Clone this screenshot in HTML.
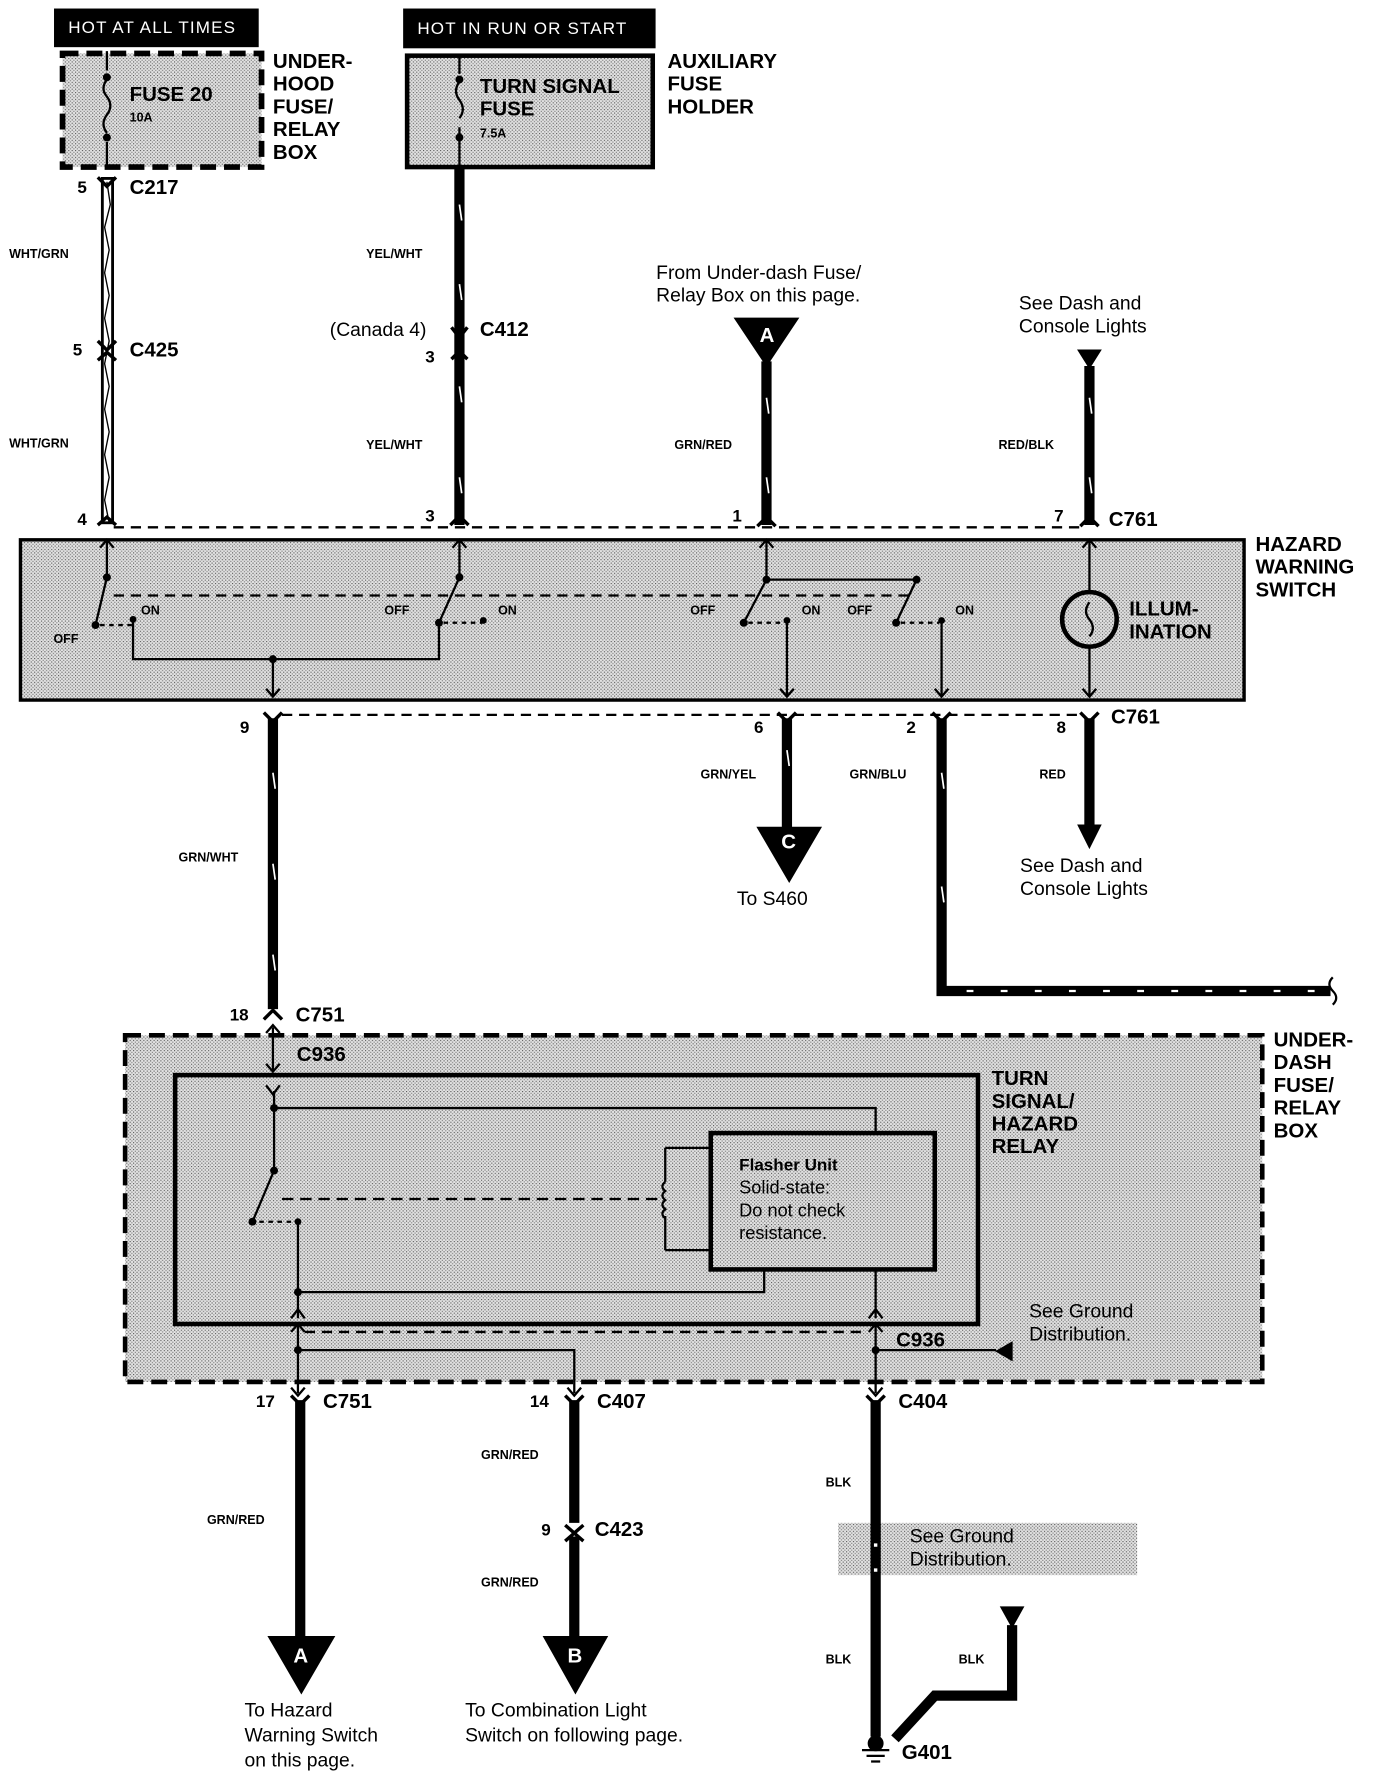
<!DOCTYPE html>
<html><head><meta charset="utf-8"><style>
html,body{margin:0;padding:0;background:#fff;}
svg{display:block}
text{font-family:"Liberation Sans",sans-serif;font-weight:bold;fill:#000;dominant-baseline:middle}
.s{font-size:11px}
.m{font-size:15px}
.l{font-size:18px}
.n{font-size:17px;font-weight:normal}
</style></head><body>
<svg width="1376" height="1778" viewBox="0 0 1210 1564.5" preserveAspectRatio="none" xmlns="http://www.w3.org/2000/svg">
<defs>
<pattern id="st" width="3" height="3" patternUnits="userSpaceOnUse"><rect width="3" height="3" fill="#e2e2e2"/><rect width="1" height="1" fill="#555"/><rect x="1.5" y="1.5" width="1" height="1" fill="#777"/></pattern>
</defs>
<g stroke="#000" fill="none">
<rect x="48" y="8" width="179" height="33" fill="#000"/>
<rect x="355" y="8" width="221" height="34" fill="#000"/>
<rect x="55" y="47" width="175" height="100" fill="url(#st)" stroke-width="5" stroke-dasharray="14,7"/>
<rect x="358" y="49" width="216" height="98" fill="url(#st)" stroke-width="4"/>
<path d="M94 45V62 M94 70 q-6 8 0 15 q6 8 0 16 q-6 8 0 16 M94 125V145" stroke-width="2"/>
<circle cx="94" cy="68" r="3" fill="#000"/><circle cx="94" cy="121" r="3" fill="#000"/>
<path d="M404 49V65 M404 72 q-6 8 0 16 q6 8 0 16 M404 112V147" stroke-width="2"/>
<circle cx="404" cy="70" r="3" fill="#000"/><circle cx="404" cy="121" r="3" fill="#000"/>
<rect x="90" y="157" width="9" height="303" fill="#fff" stroke-width="2.5"/>
<path d="M94 160 l3 20 l-5 20 l4 20 l-4 20 l4 20 l-4 20 l4 20 l-4 20 l4 20 l-4 20 l4 20 l-4 20 l4 20 l-4 20 l4 20" stroke-width="1.2"/>
<path d="M86 156 l8 8 l8 -8 M86 300 l8 8 l8 -8 M86 317 l8 -7 l8 7 M86 462 l8 -7 l8 7" stroke-width="3"/>
<path d="M404 147V462" stroke-width="9"/>
<path d="M397 288 l7 9 l7 -9 M397 316 l7 -7 l7 7 M396 462 l8 -8 l8 8" stroke-width="3"/>
<path d="M646 280H702L674 322Z" fill="#000"/>
<path d="M674 318V462" stroke-width="9"/>
<path d="M666 463 l8 -8 l8 8" stroke-width="3"/>
<path d="M948 308H968L958 324Z" fill="#000"/>
<path d="M958 322V462" stroke-width="9"/>
<path d="M950 463 l8 -8 l8 8" stroke-width="3"/>
<path d="M100 464H950" stroke-width="2" stroke-dasharray="9,6"/>
<rect x="18" y="475" width="1076" height="141" fill="url(#st)" stroke-width="3"/>
<g stroke-width="2">
<path d="M94 476V508 L84 550 M117 545V580H386V548 M240 580V612 M404 476V508 L386 548 M674 476V510H806 M674 510 L654 548 M692 545V612 M806 510 L788 548 M828 545V612 M958 476V520 M958 570V612"/>
<path d="M88 482 l6 -7 l6 7 M398 482 l6 -7 l6 7 M668 482 l6 -7 l6 7 M952 482 l6 -7 l6 7 M234 606 l6 7 l6 -7 M686 606 l6 7 l6 -7 M822 606 l6 7 l6 -7 M952 606 l6 7 l6 -7"/>
<path d="M100 524H805" stroke-dasharray="9,6"/>
<path d="M88 550H116 M390 548H424 M658 548H690 M792 548H826" stroke-dasharray="4,4"/>
<circle cx="958" cy="545" r="24" stroke-width="4"/>
<path d="M958 530 q-6 8 0 15 q6 8 0 15"/>
</g>
<g fill="#000" stroke="none">
<circle cx="94" cy="508" r="3.5"/><circle cx="84" cy="550" r="3.5"/><circle cx="117" cy="545" r="3"/>
<circle cx="404" cy="508" r="3.5"/><circle cx="386" cy="548" r="3.5"/><circle cx="425" cy="546" r="3"/>
<circle cx="674" cy="510" r="3.5"/><circle cx="654" cy="548" r="3.5"/><circle cx="692" cy="546" r="3"/>
<circle cx="806" cy="510" r="3.5"/><circle cx="788" cy="548" r="3.5"/><circle cx="828" cy="546" r="3"/>
<circle cx="240" cy="580" r="3.5"/>
</g>
<path d="M248 629H950" stroke-width="2" stroke-dasharray="9,6"/>
<path d="M232 627 l8 8 l8 -8 M684 627 l8 8 l8 -8 M820 627 l8 8 l8 -8 M950 627 l8 8 l8 -8" stroke-width="3"/>
<path d="M240 632V888" stroke-width="9"/>
<path d="M232 897 l8 -8 l8 8" stroke-width="3"/>
<path d="M692 632V730" stroke-width="9"/>
<path d="M666 728H722L694 776Z" fill="#000"/>
<path d="M828 632V872H1170" stroke-width="9"/>
<path d="M850 872h6 M880 872h6 M910 872h6 M940 872h6 M970 872h6 M1000 872h6 M1030 872h6 M1060 872h6 M1090 872h6 M1120 872h6 M1150 872h6" stroke="#fff" stroke-width="2"/>
<path d="M1172 860 q-6 6 0 12 q6 6 0 12" stroke-width="2"/>
<path d="M958 632V728" stroke-width="9"/>
<path d="M948 726H968L958 746Z" fill="#000"/>
<path d="M404 180l2 14 M404 250l2 14 M404 340l2 14 M404 420l2 14 M674 350l2 14 M674 420l2 14 M958 350l2 14 M958 420l2 14 M240 680l2 14 M240 760l2 14 M240 840l2 14 M692 660l2 14 M828 680l2 14 M828 780l2 14 M264 1270l2 14 M264 1390l2 14 M505 1300l2 14 M505 1410l2 14" stroke="#fff" stroke-width="1.5"/>
<rect x="110" y="911" width="1000" height="305" fill="url(#st)" stroke-width="4" stroke-dasharray="14,7"/>
<path d="M240 904V942" stroke-width="2"/>
<path d="M234 909l6-7l6 7 M234 936l6 7l6-7" stroke-width="2"/>
<rect x="154" y="946" width="706" height="219" fill="url(#st)" stroke-width="4"/>
<rect x="625" y="997" width="197" height="120" fill="url(#st)" stroke-width="4"/>
<g stroke-width="2">
<path d="M234 955l6 8l6-8 M241 960V1030 L222 1075 M241 975H770V997 M262 1075V1160 M262 1137H672V1117 M770 1117V1160 M585 1010H625 M585 1100H625 M585 1010V1040 M585 1070V1100"/>
<path d="M585 1040 q-5 4 0 8 q-5 4 0 8 q-5 4 0 8 q-5 4 0 8"/>
<path d="M248 1055H582" stroke-dasharray="10,6"/>
<path d="M228 1075H258" stroke-dasharray="4,4"/>
<path d="M256 1160l6-8l6 8 M764 1160l6-8l6 8"/>
<path d="M268 1172H762" stroke-dasharray="9,6"/>
<path d="M262 1166V1226 M262 1188H505V1226 M770 1166V1226 M770 1188H876"/>
<path d="M256 1172l6-7l6 7 M764 1172l6-7l6 7 M256 1221l6 7l6-7 M499 1221l6 7l6-7 M764 1221l6 7l6-7"/>
</g>
<path d="M890 1181V1197L876 1189Z" fill="#000"/>
<g fill="#000" stroke="none">
<circle cx="241" cy="975" r="3.5"/><circle cx="241" cy="1030" r="3.5"/><circle cx="222" cy="1075" r="3.5"/><circle cx="262" cy="1075" r="3"/><circle cx="262" cy="1137" r="3.5"/><circle cx="262" cy="1188" r="3.5"/><circle cx="770" cy="1188" r="3.5"/>
</g>
<path d="M256 1228l8 8l8-8 M497 1228l8 8l8-8 M762 1228l8 8l8-8" stroke-width="3"/>
<path d="M264 1232V1442" stroke-width="9"/>
<path d="M236 1440H294L265 1490Z" fill="#000"/>
<path d="M505 1232V1340 M505 1352V1442" stroke-width="9"/>
<path d="M497 1342l8 7l8-7 M497 1356l8-7l8 7" stroke-width="3"/>
<path d="M478 1440H534L506 1490Z" fill="#000"/>
<rect x="737" y="1340" width="263" height="46" fill="url(#st)" stroke="none"/>
<path d="M770 1232V1528" stroke-width="9"/>
<path d="M770 1358v3 M770 1380v3" stroke="#fff" stroke-width="3"/>
<path d="M787 1530L822 1492H890V1430" stroke-width="9"/>
<path d="M880 1414H900L890 1432Z" fill="#000"/>
<circle cx="770" cy="1534" r="7" fill="#000" stroke="none"/>
<path d="M758 1540H782 M762 1545H778 M766 1550H774" stroke-width="2"/>
</g>
<text x="60" y="25" class="n" style="fill:#fff;font-size:15px;letter-spacing:1px">HOT AT ALL TIMES</text>
<text x="367" y="26" class="n" style="fill:#fff;font-size:15px;letter-spacing:1px">HOT IN RUN OR START</text>
<text x="114" y="84" class="l">FUSE 20</text><text x="114" y="104" class="s">10A</text>
<text x="240" y="55" class="l">UNDER-</text><text x="240" y="75" class="l">HOOD</text><text x="240" y="95" class="l">FUSE/</text><text x="240" y="115" class="l">RELAY</text><text x="240" y="135" class="l">BOX</text>
<text x="422" y="77" class="l">TURN SIGNAL</text><text x="422" y="97" class="l">FUSE</text><text x="422" y="118" class="s">7.5A</text>
<text x="587" y="55" class="l">AUXILIARY</text><text x="587" y="75" class="l">FUSE</text><text x="587" y="95" class="l">HOLDER</text>
<text x="68" y="166" class="m">5</text><text x="114" y="166" class="l">C217</text>
<text x="8" y="224" class="s">WHT/GRN</text><text x="8" y="391" class="s">WHT/GRN</text>
<text x="64" y="309" class="m">5</text><text x="114" y="309" class="l">C425</text>
<text x="68" y="458" class="m">4</text>
<text x="322" y="224" class="s">YEL/WHT</text><text x="322" y="392" class="s">YEL/WHT</text>
<text x="290" y="291" class="n">(Canada 4)</text><text x="422" y="291" class="l">C412</text>
<text x="374" y="315" class="m">3</text><text x="374" y="455" class="m">3</text>
<text x="577" y="241" class="n">From Under-dash Fuse/</text><text x="577" y="261" class="n">Relay Box on this page.</text>
<text x="668" y="296" class="l" style="fill:#fff">A</text>
<text x="593" y="392" class="s">GRN/RED</text><text x="644" y="455" class="m">1</text>
<text x="896" y="268" class="n">See Dash and</text><text x="896" y="288" class="n">Console Lights</text>
<text x="878" y="392" class="s">RED/BLK</text><text x="927" y="455" class="m">7</text><text x="975" y="458" class="l">C761</text>
<text x="1104" y="480" class="l">HAZARD</text><text x="1104" y="500" class="l">WARNING</text><text x="1104" y="520" class="l">SWITCH</text>
<text x="124" y="538" class="s">ON</text><text x="47" y="563" class="s">OFF</text>
<text x="338" y="538" class="s">OFF</text><text x="438" y="538" class="s">ON</text>
<text x="607" y="538" class="s">OFF</text><text x="705" y="538" class="s">ON</text><text x="745" y="538" class="s">OFF</text><text x="840" y="538" class="s">ON</text>
<text x="993" y="537" class="l">ILLUM-</text><text x="993" y="557" class="l">INATION</text>
<text x="211" y="641" class="m">9</text><text x="663" y="641" class="m">6</text><text x="797" y="641" class="m">2</text><text x="929" y="641" class="m">8</text><text x="977" y="632" class="l">C761</text>
<text x="157" y="755" class="s">GRN/WHT</text><text x="616" y="682" class="s">GRN/YEL</text><text x="747" y="682" class="s">GRN/BLU</text><text x="914" y="682" class="s">RED</text>
<text x="687" y="742" class="l" style="fill:#fff">C</text>
<text x="648" y="792" class="n">To S460</text>
<text x="897" y="763" class="n">See Dash and</text><text x="897" y="783" class="n">Console Lights</text>
<text x="202" y="894" class="m">18</text><text x="260" y="894" class="l">C751</text>
<text x="261" y="929" class="l">C936</text>
<text x="1120" y="916" class="l">UNDER-</text><text x="1120" y="936" class="l">DASH</text><text x="1120" y="956" class="l">FUSE/</text><text x="1120" y="976" class="l">RELAY</text><text x="1120" y="996" class="l">BOX</text>
<text x="872" y="950" class="l">TURN</text><text x="872" y="970" class="l">SIGNAL/</text><text x="872" y="990" class="l">HAZARD</text><text x="872" y="1010" class="l">RELAY</text>
<text x="650" y="1026" class="m">Flasher Unit</text><text x="650" y="1046" class="n" style="font-size:16px">Solid-state:</text><text x="650" y="1066" class="n" style="font-size:16px">Do not check</text><text x="650" y="1086" class="n" style="font-size:16px">resistance.</text>
<text x="905" y="1155" class="n">See Ground</text><text x="905" y="1175" class="n">Distribution.</text>
<text x="788" y="1180" class="l">C936</text>
<text x="225" y="1234" class="m">17</text><text x="284" y="1234" class="l">C751</text>
<text x="466" y="1234" class="m">14</text><text x="525" y="1234" class="l">C407</text>
<text x="790" y="1234" class="l">C404</text>
<text x="182" y="1338" class="s">GRN/RED</text><text x="423" y="1281" class="s">GRN/RED</text><text x="423" y="1393" class="s">GRN/RED</text>
<text x="476" y="1347" class="m">9</text><text x="523" y="1347" class="l">C423</text>
<text x="726" y="1305" class="s">BLK</text><text x="726" y="1461" class="s">BLK</text><text x="843" y="1461" class="s">BLK</text>
<text x="800" y="1353" class="n">See Ground</text><text x="800" y="1373" class="n">Distribution.</text>
<text x="258" y="1458" class="l" style="fill:#fff">A</text><text x="499" y="1458" class="l" style="fill:#fff">B</text>
<text x="793" y="1543" class="l">G401</text>
<text x="215" y="1506" class="n">To Hazard</text><text x="215" y="1528" class="n">Warning Switch</text><text x="215" y="1550" class="n">on this page.</text>
<text x="409" y="1506" class="n">To Combination Light</text><text x="409" y="1528" class="n">Switch on following page.</text>
</svg>
</body></html>
